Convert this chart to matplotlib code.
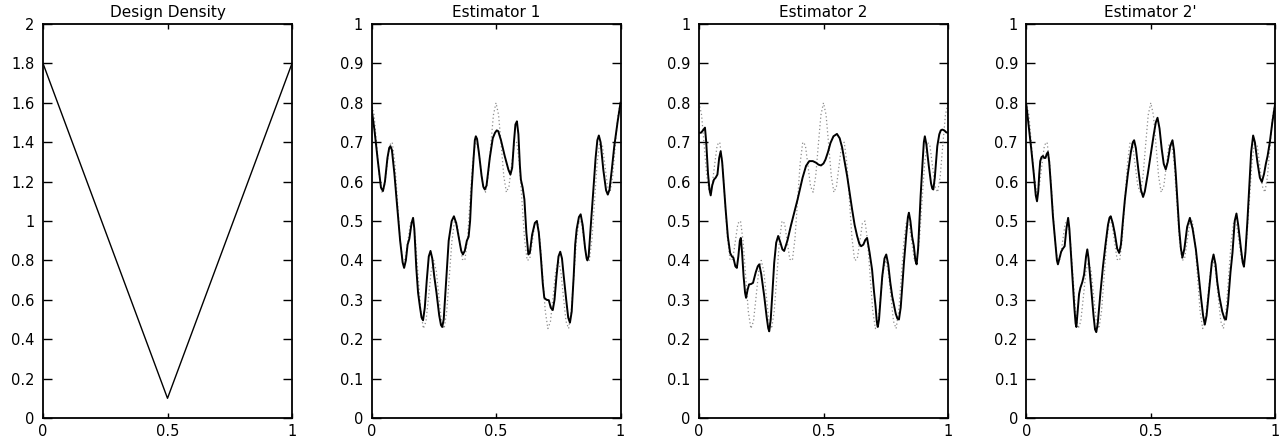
import numpy as np
import matplotlib
matplotlib.use("Agg")
import matplotlib.pyplot as plt

# design density (V shape)
design_x = [0.0, 0.5, 1.0]
design_y = [1.8, 0.1, 1.8]

# true regression function (dotted), sampled on a 1/96 grid
true_x = np.arange(97) / 96
true_y = [0.800, 0.769, 0.693, 0.614, 0.573, 0.588, 0.641, 0.693, 0.700, 0.647,
          0.552, 0.455, 0.400, 0.403, 0.448, 0.494, 0.500, 0.449, 0.359, 0.271,
          0.227, 0.245, 0.307, 0.372, 0.400, 0.372, 0.307, 0.245, 0.227, 0.271,
          0.359, 0.449, 0.500, 0.494, 0.448, 0.403, 0.400, 0.455, 0.552, 0.647,
          0.700, 0.693, 0.641, 0.588, 0.573, 0.614, 0.693, 0.769, 0.800, 0.769,
          0.693, 0.614, 0.573, 0.588, 0.641, 0.693, 0.700, 0.647, 0.552, 0.455,
          0.400, 0.403, 0.448, 0.494, 0.500, 0.449, 0.359, 0.271, 0.227, 0.245,
          0.307, 0.372, 0.400, 0.372, 0.307, 0.245, 0.227, 0.271, 0.359, 0.449,
          0.500, 0.494, 0.448, 0.403, 0.400, 0.455, 0.552, 0.647, 0.700, 0.693,
          0.641, 0.588, 0.573, 0.614, 0.693, 0.769, 0.800]

# Estimator 1 (x, y)
est1_pts = [
    (0, 0.787), (0.012, 0.73), (0.025, 0.655), (0.038, 0.585), (0.046, 0.576),
    (0.054, 0.60), (0.064, 0.66), (0.071, 0.685), (0.076, 0.69), (0.082, 0.68),
    (0.092, 0.62), (0.1, 0.56), (0.115, 0.45), (0.125, 0.395), (0.131, 0.381),
    (0.138, 0.40), (0.145, 0.44), (0.152, 0.455), (0.161, 0.495), (0.167, 0.508),
    (0.172, 0.48), (0.18, 0.38), (0.187, 0.318), (0.195, 0.28), (0.201, 0.255),
    (0.207, 0.248), (0.214, 0.28), (0.222, 0.35), (0.23, 0.41), (0.237, 0.424),
    (0.244, 0.405), (0.252, 0.36), (0.261, 0.318), (0.272, 0.26), (0.279, 0.236),
    (0.284, 0.231), (0.29, 0.25), (0.3, 0.35), (0.31, 0.45), (0.322, 0.5),
    (0.331, 0.512), (0.34, 0.495), (0.35, 0.46), (0.36, 0.425), (0.367, 0.415),
    (0.375, 0.425), (0.383, 0.45), (0.39, 0.46), (0.396, 0.5), (0.402, 0.58),
    (0.41, 0.66), (0.415, 0.705), (0.419, 0.715), (0.424, 0.708), (0.432, 0.67),
    (0.442, 0.615), (0.449, 0.587), (0.455, 0.58), (0.462, 0.59), (0.475, 0.66),
    (0.487, 0.71), (0.496, 0.724), (0.503, 0.73), (0.509, 0.728), (0.52, 0.705),
    (0.535, 0.665), (0.55, 0.63), (0.558, 0.618), (0.565, 0.635), (0.572, 0.7),
    (0.578, 0.745), (0.584, 0.753), (0.59, 0.72), (0.596, 0.64), (0.6, 0.605),
    (0.607, 0.585), (0.614, 0.555), (0.622, 0.47), (0.63, 0.415), (0.636, 0.42),
    (0.645, 0.465), (0.656, 0.495), (0.664, 0.5), (0.672, 0.47), (0.68, 0.41),
    (0.688, 0.34), (0.694, 0.305), (0.703, 0.3), (0.712, 0.299), (0.72, 0.28),
    (0.728, 0.274), (0.735, 0.3), (0.743, 0.36), (0.751, 0.41), (0.758, 0.422),
    (0.765, 0.405), (0.772, 0.36), (0.782, 0.3), (0.79, 0.255), (0.797, 0.242),
    (0.804, 0.27), (0.812, 0.36), (0.818, 0.44), (0.824, 0.479), (0.833, 0.51),
    (0.84, 0.517), (0.848, 0.49), (0.858, 0.43), (0.864, 0.405), (0.867, 0.40),
    (0.872, 0.41), (0.882, 0.5), (0.89, 0.57), (0.9, 0.66), (0.907, 0.705),
    (0.913, 0.717), (0.92, 0.7), (0.931, 0.63), (0.942, 0.578), (0.949, 0.567),
    (0.956, 0.58), (0.965, 0.63), (0.975, 0.69), (0.988, 0.75), (1.0, 0.80),
]

# Estimator 2
est2_pts = [
    (0, 0.724), (0.008, 0.724), (0.016, 0.73), (0.024, 0.737), (0.029, 0.7),
    (0.036, 0.622), (0.042, 0.58), (0.047, 0.565), (0.053, 0.59), (0.06, 0.605),
    (0.067, 0.61), (0.074, 0.618), (0.081, 0.66), (0.087, 0.677), (0.093, 0.65),
    (0.1, 0.59), (0.107, 0.529), (0.116, 0.46), (0.125, 0.419), (0.132, 0.41),
    (0.138, 0.407), (0.146, 0.385), (0.152, 0.381), (0.158, 0.41), (0.164, 0.45),
    (0.168, 0.457), (0.173, 0.42), (0.179, 0.36), (0.185, 0.318), (0.189, 0.305),
    (0.195, 0.325), (0.201, 0.339), (0.209, 0.34), (0.217, 0.343), (0.228, 0.37),
    (0.236, 0.385), (0.242, 0.39), (0.25, 0.365), (0.262, 0.309), (0.272, 0.255),
    (0.278, 0.228), (0.282, 0.22), (0.288, 0.25), (0.295, 0.32), (0.302, 0.394),
    (0.31, 0.445), (0.318, 0.462), (0.327, 0.445), (0.335, 0.428), (0.342, 0.424),
    (0.355, 0.45), (0.369, 0.488), (0.396, 0.555), (0.416, 0.61), (0.43, 0.64),
    (0.443, 0.652), (0.457, 0.652), (0.47, 0.648), (0.48, 0.643), (0.49, 0.641),
    (0.5, 0.646), (0.508, 0.656), (0.518, 0.675), (0.528, 0.698), (0.54, 0.715),
    (0.554, 0.721), (0.565, 0.71), (0.575, 0.686), (0.585, 0.65), (0.595, 0.614),
    (0.615, 0.529), (0.625, 0.49), (0.635, 0.462), (0.644, 0.442), (0.651, 0.436),
    (0.66, 0.44), (0.668, 0.452), (0.675, 0.457), (0.685, 0.42), (0.695, 0.377),
    (0.703, 0.32), (0.709, 0.284), (0.714, 0.245), (0.718, 0.231), (0.723, 0.25),
    (0.73, 0.31), (0.736, 0.36), (0.745, 0.405), (0.752, 0.415), (0.76, 0.39),
    (0.768, 0.345), (0.776, 0.309), (0.79, 0.265), (0.797, 0.252), (0.803, 0.25),
    (0.81, 0.28), (0.817, 0.34), (0.823, 0.394), (0.833, 0.47), (0.839, 0.51),
    (0.843, 0.521), (0.849, 0.5), (0.856, 0.46), (0.863, 0.436), (0.869, 0.4),
    (0.874, 0.39), (0.88, 0.43), (0.89, 0.563), (0.898, 0.65), (0.903, 0.7),
    (0.907, 0.715), (0.913, 0.695), (0.923, 0.639), (0.932, 0.595), (0.937, 0.582),
    (0.941, 0.58), (0.947, 0.61), (0.957, 0.69), (0.965, 0.72), (0.971, 0.73),
    (0.977, 0.732), (0.985, 0.73), (0.993, 0.725), (1.0, 0.724),
]

# Estimator 2'
est2p_pts = [
    (0, 0.796), (0.01, 0.74), (0.02, 0.682), (0.03, 0.62), (0.038, 0.565),
    (0.043, 0.55), (0.048, 0.575), (0.052, 0.62), (0.056, 0.652), (0.061, 0.662),
    (0.067, 0.665), (0.072, 0.66), (0.077, 0.66), (0.082, 0.67), (0.087, 0.675),
    (0.092, 0.65), (0.1, 0.58), (0.107, 0.512), (0.117, 0.44), (0.123, 0.4),
    (0.127, 0.39), (0.133, 0.405), (0.14, 0.422), (0.147, 0.43), (0.154, 0.436),
    (0.161, 0.48), (0.168, 0.508), (0.173, 0.48), (0.179, 0.42), (0.185, 0.36),
    (0.193, 0.28), (0.198, 0.24), (0.201, 0.231), (0.206, 0.27), (0.212, 0.315),
    (0.217, 0.33), (0.225, 0.345), (0.232, 0.364), (0.24, 0.41), (0.245, 0.428),
    (0.25, 0.405), (0.255, 0.37), (0.261, 0.326), (0.27, 0.26), (0.276, 0.225),
    (0.281, 0.218), (0.287, 0.24), (0.298, 0.32), (0.308, 0.385), (0.318, 0.44),
    (0.328, 0.49), (0.334, 0.508), (0.339, 0.512), (0.347, 0.495), (0.355, 0.47),
    (0.365, 0.43), (0.373, 0.419), (0.38, 0.44), (0.388, 0.5), (0.396, 0.555),
    (0.408, 0.62), (0.42, 0.675), (0.428, 0.7), (0.433, 0.705), (0.44, 0.685),
    (0.45, 0.63), (0.46, 0.58), (0.469, 0.561), (0.476, 0.575), (0.488, 0.62),
    (0.5, 0.67), (0.512, 0.72), (0.52, 0.75), (0.527, 0.762), (0.535, 0.735),
    (0.544, 0.682), (0.552, 0.645), (0.56, 0.631), (0.568, 0.65), (0.578, 0.69),
    (0.587, 0.705), (0.593, 0.68), (0.6, 0.622), (0.607, 0.55), (0.614, 0.479),
    (0.621, 0.43), (0.627, 0.407), (0.635, 0.43), (0.646, 0.485), (0.657, 0.508),
    (0.668, 0.48), (0.681, 0.428), (0.691, 0.37), (0.701, 0.309), (0.71, 0.26),
    (0.717, 0.237), (0.724, 0.26), (0.735, 0.33), (0.745, 0.395), (0.752, 0.415),
    (0.76, 0.39), (0.767, 0.345), (0.775, 0.309), (0.787, 0.27), (0.796, 0.252),
    (0.802, 0.25), (0.81, 0.29), (0.82, 0.37), (0.828, 0.419), (0.837, 0.5),
    (0.844, 0.519), (0.851, 0.49), (0.862, 0.43), (0.869, 0.395), (0.874, 0.384),
    (0.88, 0.42), (0.888, 0.5), (0.895, 0.58), (0.903, 0.675), (0.911, 0.717),
    (0.918, 0.7), (0.928, 0.65), (0.938, 0.61), (0.946, 0.599), (0.955, 0.62),
    (0.962, 0.645), (0.969, 0.665), (0.978, 0.7), (0.988, 0.75), (1.0, 0.80),
]

titles = ["Design Density", "Estimator 1", "Estimator 2", "Estimator 2'"]
estimates = [est1_pts, est2_pts, est2p_pts]

W, H = 1281, 446
fig = plt.figure(figsize=(W / 100, H / 100), dpi=100)
lefts = [43, 371.5, 699, 1026.3]


def style(ax, yticks, ylabels):
    ax.set_xlim(0, 1)
    ax.set_xticks([0, 0.5, 1])
    ax.set_xticklabels(["0", "0.5", "1"])
    ax.set_yticks(yticks)
    ax.set_yticklabels(ylabels)
    ax.tick_params(axis="both", direction="in", labelsize=10.5, width=1.0,
                   top=True, right=True)
    ax.tick_params(axis="y", length=6.5, pad=6)
    ax.tick_params(axis="x", length=3.5, pad=4)
    for s in ax.spines.values():
        s.set_linewidth(1.3)


for i, left in enumerate(lefts):
    ax = fig.add_axes([left / W, 1 - 418 / H, 249 / W, 394 / H])
    if i == 0:
        ax.plot(design_x, design_y, color="k", lw=1.0)
        ax.set_ylim(0, 2)
        yt = [round(0.2 * k, 1) for k in range(11)]
        style(ax, yt, ["%g" % v for v in yt])
    else:
        ex, ey = zip(*estimates[i - 1])
        ax.plot(true_x, true_y, color="0.55", lw=0.9, ls=(0, (1, 2)))
        ax.plot(ex, ey, color="k", lw=1.4, solid_joinstyle="round")
        ax.set_ylim(0, 1)
        yt = [round(0.1 * k, 1) for k in range(11)]
        style(ax, yt, ["%g" % v for v in yt])
    ax.set_title(titles[i], fontsize=11, pad=5)

fig.savefig("out.png", dpi=100)
